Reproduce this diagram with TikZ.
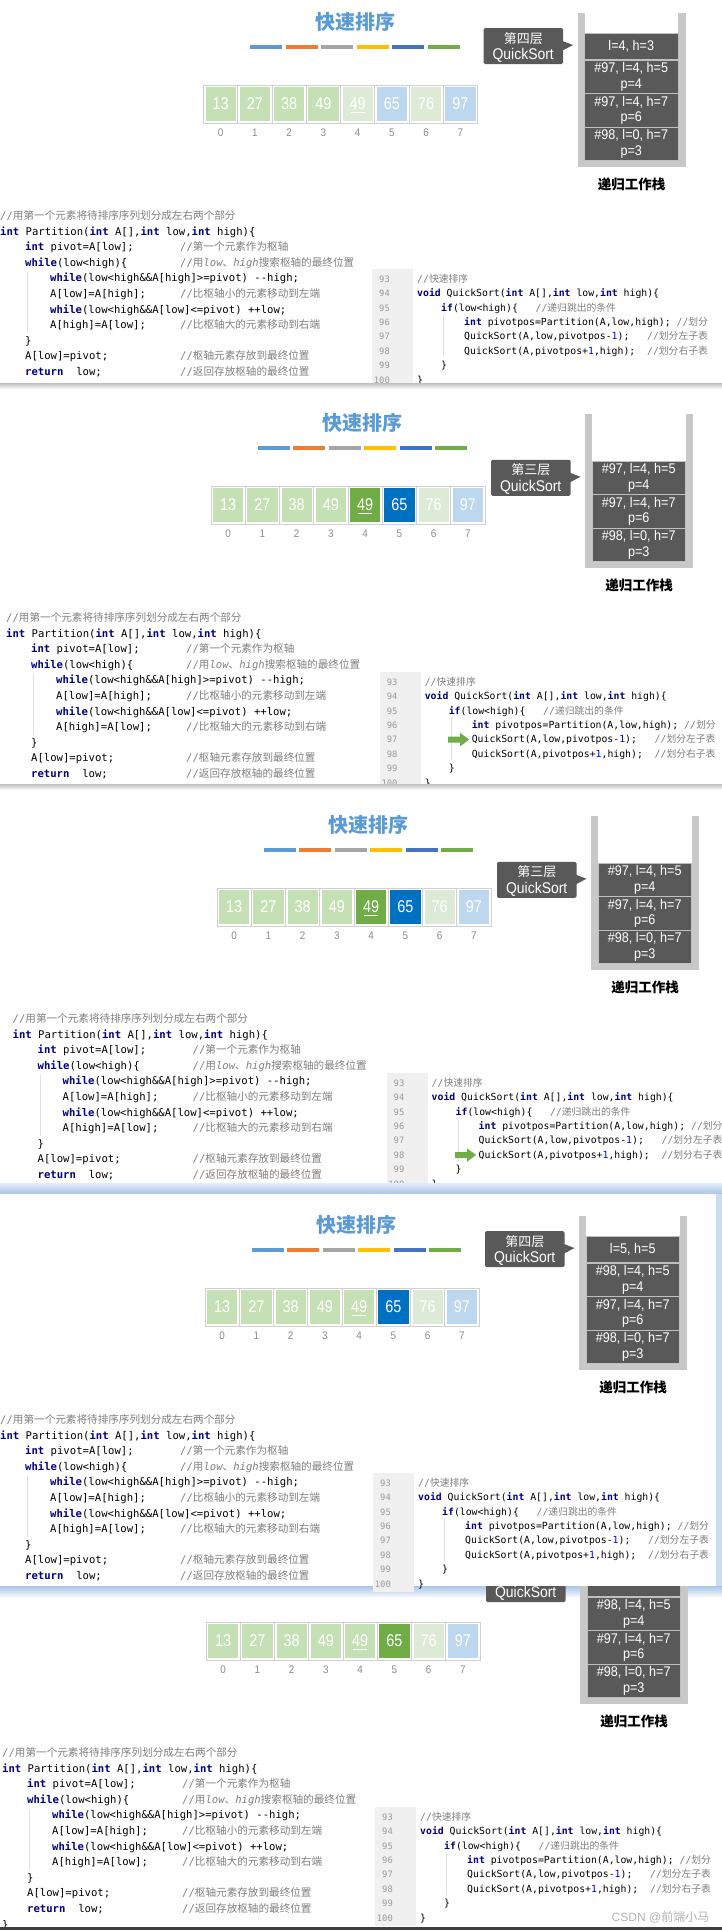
\documentclass[tikz,border=0pt]{standalone}
\usepackage{fontspec}
\setmainfont{Liberation Sans}
\newfontfamily\uif{Liberation Sans}[FakeStretch=0.9]
\newfontfamily\cellf{Liberation Sans}[FakeStretch=0.85]
\newfontfamily\cjk{Noto Sans CJK SC}
\newfontfamily\mono{DejaVu Sans Mono}
\definecolor{titleblue}{HTML}{5B9BD5}
\definecolor{b1}{HTML}{5B9BD5}
\definecolor{b2}{HTML}{ED7D31}
\definecolor{b3}{HTML}{A5A5A5}
\definecolor{b4}{HTML}{FFC000}
\definecolor{b5}{HTML}{4472C4}
\definecolor{b6}{HTML}{70AD47}
\definecolor{cG}{HTML}{C5E0B4}
\definecolor{cLG}{HTML}{DDEBD6}
\definecolor{cLB}{HTML}{BDD7EE}
\definecolor{cSG}{HTML}{70AD47}
\definecolor{cSB}{HTML}{0070C0}
\definecolor{framec}{HTML}{D0D0D0}
\definecolor{wallc}{HTML}{C8C8C8}
\definecolor{itemc}{HTML}{595959}
\definecolor{sepc}{HTML}{BFBFBF}
\definecolor{kwc}{HTML}{000080}
\definecolor{cmc}{HTML}{808080}
\definecolor{numc}{HTML}{0000FF}
\definecolor{lnc}{HTML}{999999}
\definecolor{gutc}{HTML}{F0F0F0}
\definecolor{guidec}{HTML}{E0E0E0}
\definecolor{idxc}{HTML}{8C8C8C}
\definecolor{glowA}{HTML}{E3EDF8}
\definecolor{glowB}{HTML}{A9C6E8}
\newcommand\kw[1]{{\color{kwc}\bfseries #1}}
\newcommand\cmt[1]{{\color{cmc}#1}}
\newcommand\cj[1]{{\cjk #1}}
\newcommand\nm[1]{{\color{numc}#1}}
\tikzset{
 lc/.style={anchor=base west, inner sep=0, font=\mono\fontsize{10.6}{12}\selectfont},
 rc/.style={anchor=base west, inner sep=0, font=\mono\fontsize{9.8}{11}\selectfont},
 ln/.style={anchor=base east, inner sep=0, text=lnc, font=\mono\fontsize{8.8}{10}\selectfont},
 guide/.style={draw=guidec, line width=0.8},
 title/.style={inner sep=0, text=titleblue, font=\cjk\bfseries\fontsize{20}{20}\selectfont},
 stacklabel/.style={inner sep=0, text=black, font=\cjk\bfseries\fontsize{13.5}{14}\selectfont},
 cellframe/.style={draw=framec, line width=0.8},
 cell/.style={minimum width=30.25, minimum height=34, inner sep=0, text=white, font=\cellf\fontsize{17}{17}\selectfont},
 idx/.style={inner sep=0, text=idxc, font=\uif\fontsize{11}{11}\selectfont},
 item/.style={fill=itemc, draw=sepc, line width=1, text=white, inner sep=0, minimum width=93.5, align=center, font=\uif\fontsize{14}{15.5}\selectfont},
 cbox/.style={fill=itemc, minimum width=79.5, minimum height=36, inner sep=0, rounded corners=1.5},
 ctext/.style={inner sep=0, text=white, font=\uif\fontsize{15.5}{16}\selectfont},
 ctextcj/.style={inner sep=0, text=white, font=\cjk\fontsize{13}{14}\selectfont},
 arrowg/.style={fill=cSG},
 wm/.style={inner sep=0, text=black!30, font=\fontsize{12}{12}\selectfont}
}
\newcommand\leftcode[3]{%
\begin{scope}[shift={(#2,#3)}]
\draw[guide] (27.5,52) -- (27.5,113);
\node[lc] (#1-l0) at (0,0) {\cmt{//\cj{用第一个元素将待排序序列划分成左右两个部分}}};
\node[lc] (#1-l1) at (0,15.6) {\kw{int} Partition(\kw{int} A[],\kw{int} low,\kw{int} high)\{};
\node[lc] (#1-l2) at (25,31.2) {\kw{int} pivot=A[low];};
\node[lc] (#1-c2) at (180,31.2) {\cmt{//\cj{第一个元素作为枢轴}}};
\node[lc] (#1-l3) at (25,46.8) {\kw{while}(low<high)\{};
\node[lc] (#1-c3) at (180,46.8) {\cmt{//\cj{用}{\itshape low}\cj{、}{\itshape high}\cj{搜索枢轴的最终位置}}};
\node[lc] (#1-l4) at (50,62.4) {\kw{while}(low<high\&\&A[high]>=pivot) --high;};
\node[lc] (#1-l5) at (50,78) {A[low]=A[high];};
\node[lc] (#1-c5) at (180,78) {\cmt{//\cj{比枢轴小的元素移动到左端}}};
\node[lc] (#1-l6) at (50,93.6) {\kw{while}(low<high\&\&A[low]<=pivot) ++low;};
\node[lc] (#1-l7) at (50,109.2) {A[high]=A[low];};
\node[lc] (#1-c7) at (180,109.2) {\cmt{//\cj{比枢轴大的元素移动到右端}}};
\node[lc] (#1-l8) at (25,124.8) {\}};
\node[lc] (#1-l9) at (25,140.4) {A[low]=pivot;};
\node[lc] (#1-c9) at (180,140.4) {\cmt{//\cj{枢轴元素存放到最终位置}}};
\node[lc] (#1-l10) at (25,156) {\kw{return}\ \ low;};
\node[lc] (#1-c10) at (180,156) {\cmt{//\cj{返回存放枢轴的最终位置}}};
\end{scope}}
\newcommand\rightcode[3]{%
\begin{scope}[shift={(#2,#3)}]
\fill[gutc] (-45,-13) rectangle (-4,106);
\draw[guide] (26.5,33) -- (26.5,75);
\foreach \n [count=\i from 0] in {93,...,100} \node[ln] (#1-n\n) at (-27,\i*14.4) {\n};
\node[rc] (#1-r0) at (0,0) {\cmt{//\cj{快速排序}}};
\node[rc] (#1-r1) at (0,14.4) {\kw{void} QuickSort(\kw{int} A[],\kw{int} low,\kw{int} high)\{};
\node[rc] (#1-r2) at (24,28.8) {\kw{if}(low<high)\{\ \ \ \cmt{//\cj{递归跳出的条件}}};
\node[rc] (#1-r3) at (47,43.2) {\kw{int} pivotpos=Partition(A,low,high);\ \cmt{//\cj{划分}}};
\node[rc] (#1-r4) at (47,57.6) {QuickSort(A,low,pivotpos-\nm{1});\ \ \ \cmt{//\cj{划分左子表}}};
\node[rc] (#1-r5) at (47,72) {QuickSort(A,pivotpos+\nm{1},high);\ \ \cmt{//\cj{划分右子表}}};
\node[rc] (#1-r6) at (24,86.4) {\}};
\node[rc] (#1-r7) at (0,100.8) {\}};
\end{scope}}
\newcommand\garrow[2]{%
\begin{scope}[shift={(#1,#2)}]
\fill[arrowg] (23.5,-3) -- (35.5,-3) -- (35.5,-6.7) -- (44.5,0) -- (35.5,6.7) -- (35.5,3) -- (23.5,3) -- cycle;
\end{scope}}
\newcommand\paneltitle[3]{%
\begin{scope}[shift={(#2,#3)}]
\node[title] (#1-title) at (151.5,-63) {快速排序};
\foreach \c [count=\i from 0] in {b1,b2,b3,b4,b5,b6} \fill[\c] (46.5+\i*35.5,-40.5) rectangle ++(32,4);
\end{scope}}
\newcommand\panelstack[3]{%
\begin{scope}[shift={(#2,#3)}]
\node[stacklabel] (#1-slabel) at (428,99) {递归工作栈};
\fill[wallc] (374,-72) rectangle (381,82);
\fill[wallc] (474.5,-72) rectangle (482,82);
\fill[wallc] (381,75.5) rectangle (474.5,82);
\end{scope}}
\newcommand\panelarray[4]{%
\begin{scope}[shift={(#2,#3)}]
\foreach \c/\v [count=\i from 0] in {#4} {
  \draw[cellframe] (\i*34.25,0) rectangle ++(34.25,38);
  \node[cell, fill=\c] (#1-cell\i) at (\i*34.25+17.125,19) {\v};
  \node[idx] (#1-idx\i) at (\i*34.25+17.125,47.5) {\i};
}
\draw[white, line width=1.2] (4.5*34.25-7,27.5) -- (4.5*34.25+7,27.5);
\end{scope}}
\newcommand\sitem[4]{\node[item, minimum height=#3] (#1) at (427.75,#2) {#4};}
\newcommand\callout[3]{%
\node[cbox] (#1-cb) at (319.75,#2) {};
\fill[itemc] (359,#2-5) -- (369.5,#2-1) -- (359,#2+4.5) -- cycle;
\node[ctextcj] (#1-ct1) at (319.75,#2-7.7) {#3};
\node[ctext] (#1-ct2) at (319.75,#2+9.7) {QuickSort};}
\begin{document}
\begin{tikzpicture}[x=1pt,y=-1pt]
\useasboundingbox (0,0) rectangle (722,1930);
\fill[white] (0,0) rectangle (722,1930);
% ---------- panel 1
\paneltitle{p1}{203.5}{85}
\panelstack{p1}{203.5}{85}
\panelarray{p1}{203.5}{85}{cG/13,cG/27,cG/38,cG/49,cLG/49,cLB/65,cLG/76,cLB/97}
\begin{scope}[shift={(203.5,85)}]
\sitem{p1-s4}{-39}{26}{l=4, h=3}
\sitem{p1-s3}{-8.25}{33.5}{\#97, l=4, h=5\\p=4}
\sitem{p1-s2}{25.25}{33.5}{\#97, l=4, h=7\\p=6}
\sitem{p1-s1}{58.75}{33.5}{\#98, l=0, h=7\\p=3}
\callout{p1}{-39}{第四层}
\end{scope}
\leftcode{p1L}{0}{219.5}
\rightcode{p1R}{417}{282.3}
\shade[top color=black!25, bottom color=white] (0,383) rectangle (722,389);
% ---------- panel 2
\paneltitle{p2}{211}{486}
\panelstack{p2}{211}{486}
\panelarray{p2}{211}{486}{cG/13,cG/27,cG/38,cG/49,cSG/49,cSB/65,cLG/76,cLB/97}
\begin{scope}[shift={(211,486)}]
\sitem{p2-s3}{-8.25}{33.5}{\#97, l=4, h=5\\p=4}
\sitem{p2-s2}{25.25}{33.5}{\#97, l=4, h=7\\p=6}
\sitem{p2-s1}{58.75}{33.5}{\#98, l=0, h=7\\p=3}
\callout{p2}{-8.25}{第三层}
\end{scope}
\leftcode{p2L}{6}{621.5}
\rightcode{p2R}{424.6}{685.3}
\garrow{424.6}{739.6}
\shade[top color=black!25, bottom color=white] (0,784) rectangle (722,790);
% ---------- panel 3
\paneltitle{p3}{217}{888}
\panelstack{p3}{217}{888}
\panelarray{p3}{217}{888}{cG/13,cG/27,cG/38,cG/49,cSG/49,cSB/65,cLG/76,cLB/97}
\begin{scope}[shift={(217,888)}]
\sitem{p3-s3}{-8.25}{33.5}{\#97, l=4, h=5\\p=4}
\sitem{p3-s2}{25.25}{33.5}{\#97, l=4, h=7\\p=6}
\sitem{p3-s1}{58.75}{33.5}{\#98, l=0, h=7\\p=3}
\callout{p3}{-8.25}{第三层}
\end{scope}
\leftcode{p3L}{12.5}{1022.5}
\rightcode{p3R}{431.5}{1086.3}
\garrow{431.5}{1155}
% ---------- panel 5 (behind panel 4)
\shade[top color=glowB, bottom color=white] (0,1586) rectangle (722,1598);
\panelstack{p5}{206}{1622}
\panelarray{p5}{206}{1622}{cG/13,cG/27,cG/38,cG/49,cG/49,cSG/65,cLG/76,cLB/97}
\begin{scope}[shift={(206,1622)}]
\sitem{p5-s4}{-39}{26}{}
\sitem{p5-s3}{-8.25}{33.5}{\#98, l=4, h=5\\p=4}
\sitem{p5-s2}{25.25}{33.5}{\#97, l=4, h=7\\p=6}
\sitem{p5-s1}{58.75}{33.5}{\#98, l=0, h=7\\p=3}
\node[cbox] (p5-cb) at (319.75,-38) {};
\node[ctext] (p5-ct2) at (319.75,-28.3) {QuickSort};
\end{scope}
\leftcode{p5L}{2}{1756.5}
\node[lc] (p5L-l11) at (2,1928) {\}};
\rightcode{p5R}{420}{1820.3}
% ---------- panel 4 (on top)
\shade[top color=glowA, bottom color=glowB] (0,1183) rectangle (722,1194);
\fill[glowB!60] (716,1194) rectangle (722,1586);
\fill[white] (0,1194) rectangle (716,1586);
\paneltitle{p4}{205}{1288}
\panelstack{p4}{205}{1288}
\panelarray{p4}{205}{1288}{cG/13,cG/27,cG/38,cG/49,cG/49,cSB/65,cLG/76,cLB/97}
\begin{scope}[shift={(205,1288)}]
\sitem{p4-s4}{-39}{26}{l=5, h=5}
\sitem{p4-s3}{-8.25}{33.5}{\#98, l=4, h=5\\p=4}
\sitem{p4-s2}{25.25}{33.5}{\#97, l=4, h=7\\p=6}
\sitem{p4-s1}{58.75}{33.5}{\#98, l=0, h=7\\p=3}
\callout{p4}{-39}{第四层}
\end{scope}
\leftcode{p4L}{0}{1423.5}
\rightcode{p4R}{418}{1486.3}
% ---------- footer
\node[wm] (wm) at (660.5,1917) {CSDN @\cj{前端小马}};
\fill[black!75] (0,1927) rectangle (722,1930);
\end{tikzpicture}
\end{document}
